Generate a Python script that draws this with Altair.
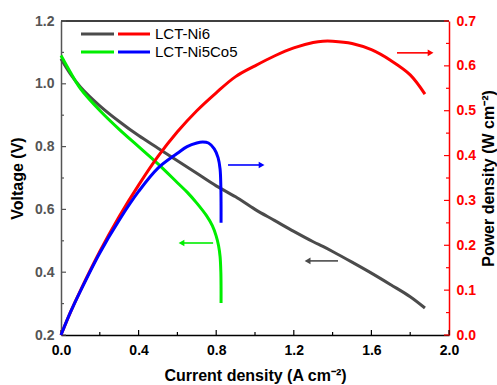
import altair as alt
import pandas as pd

# ---------------- data ----------------
current_ni6 = [0.0, 0.05, 0.1, 0.2, 0.3, 0.4, 0.5, 0.6, 0.7, 0.8, 0.9, 1.0,
               1.1, 1.2, 1.3, 1.35, 1.4, 1.5, 1.6, 1.7, 1.8, 1.876]
voltage_ni6 = [1.08, 1.03, 0.99, 0.93, 0.88, 0.835, 0.795, 0.755, 0.715, 0.675,
               0.64, 0.60, 0.565, 0.53, 0.497, 0.482, 0.466, 0.432, 0.397, 0.36,
               0.322, 0.286]
power_ni6 = [0.0, 0.052, 0.099, 0.186, 0.264, 0.334, 0.398, 0.453, 0.500, 0.540,
             0.576, 0.600, 0.622, 0.640, 0.652, 0.655, 0.655, 0.650, 0.636, 0.612,
             0.580, 0.537]

current_ni5co5_v = [0.0, 0.05, 0.1, 0.2, 0.3, 0.4, 0.5, 0.6, 0.65, 0.7, 0.75,
                    0.78, 0.80, 0.812, 0.82, 0.824, 0.825, 0.825]
voltage_ni5co5 = [1.09, 1.035, 0.985, 0.915, 0.855, 0.80, 0.745, 0.685, 0.655,
                  0.62, 0.58, 0.548, 0.515, 0.485, 0.45, 0.40, 0.35, 0.302]
current_ni5co5_p = [0.0, 0.05, 0.1, 0.2, 0.3, 0.4, 0.5, 0.6, 0.65, 0.7, 0.73,
                    0.76, 0.79, 0.81, 0.82, 0.824, 0.825, 0.825]
power_ni5co5 = [0.0, 0.052, 0.098, 0.183, 0.256, 0.32, 0.372, 0.405, 0.42, 0.428,
                0.43, 0.428, 0.415, 0.395, 0.37, 0.33, 0.29, 0.25]

legend_labels = ["LCT-Ni6", "LCT-Ni5Co5"]

x_major = [0.0, 0.4, 0.8, 1.2, 1.6, 2.0]
x_minor = [0.2, 0.6, 1.0, 1.4, 1.8]
yl_major = [0.2, 0.4, 0.6, 0.8, 1.0, 1.2]
yl_minor = [0.3, 0.5, 0.7, 0.9, 1.1]
yr_major = [0.0, 0.1, 0.2, 0.3, 0.4, 0.5, 0.6, 0.7]
yr_minor = [0.05, 0.15, 0.25, 0.35, 0.45, 0.55, 0.65]

# arrows (tail x, head x, y) in data units
arrows_left = {"gray": (1.428, 1.253, 0.436), "green": (0.784, 0.603, 0.493)}
arrows_right = {"blue": (0.861, 1.052, 0.379), "red": (1.732, 1.923, 0.629)}

# ---------------- styling ----------------
W, H = 388, 314
FONT = "Liberation Sans"
GRAY = "#4b4b4b"
AXGRAY = "#555555"
RED = "#ff0000"
GREEN = "#00ee00"
BLUE = "#0000ff"

XS = alt.Scale(domain=[0, 2], nice=False, zero=False)
YL = alt.Scale(domain=[0.2, 1.2], nice=False, zero=False)
YR = alt.Scale(domain=[0, 0.7], nice=False, zero=False)

common_axis = dict(ticks=False, grid=False, labelFont=FONT, labelFontSize=14,
                   labelFontWeight="bold", titleFont=FONT, titleFontSize=16,
                   titleFontWeight="bold", domainWidth=1.5, labelFlush=False,
                   labelOverlap=False, format=".1f", titleColor="black")

x_axis = alt.Axis(title="Current density (A cm⁻²)", orient="bottom", values=x_major,
                  domainColor="black", labelColor="black", labelPadding=8,
                  titlePadding=10, **common_axis)
yl_axis = alt.Axis(title="Voltage (V)", orient="left", values=yl_major,
                   domainColor=AXGRAY, labelColor=AXGRAY, labelPadding=7,
                   titlePadding=9, **common_axis)
yr_axis = alt.Axis(title="Power density (W cm⁻²)", orient="right", values=yr_major,
                   domainColor=RED, labelColor=RED, labelPadding=7,
                   titlePadding=5, titleAngle=270, titleBaseline="top", **common_axis)

AX_Y = {"L": yl_axis, "R": yr_axis}
SC_Y = {"L": YL, "R": YR}

df6 = pd.DataFrame({"i": range(len(current_ni6)), "j": current_ni6,
                    "v": voltage_ni6, "p": power_ni6})
df55v = pd.DataFrame({"i": range(len(current_ni5co5_v)), "j": current_ni5co5_v,
                      "v": voltage_ni5co5})
df55p = pd.DataFrame({"i": range(len(current_ni5co5_p)), "j": current_ni5co5_p,
                      "p": power_ni5co5})
one = pd.DataFrame({"k": [0]})


def X(field):
    return alt.X(field, scale=XS, axis=x_axis)


def Y(field, side):
    return alt.Y(field, scale=SC_Y[side], axis=AX_Y[side])


def curve(df, field, side, color):
    return alt.Chart(df).mark_line(color=color, strokeWidth=3,
                                   interpolate="catmull-rom").encode(
        x=X("j:Q"), y=Y(f"{field}:Q", side), order=alt.Order("i:Q"))


def xticks(vals, length):
    return alt.Chart(pd.DataFrame({"t": vals})).mark_rule(color="black", strokeWidth=1.2).encode(
        x=X("t:Q"), y=alt.value(H), y2=alt.value(H - length))


def yticks(vals, side, color, x0, length):
    return alt.Chart(pd.DataFrame({"t": vals})).mark_rule(color=color, strokeWidth=1.2).encode(
        y=Y("t:Q", side), x=alt.value(x0), x2=alt.value(x0 + length))


def arrow(spec, side, color):
    xt, xh, yv = spec
    d = 1 if xh > xt else -1
    df = pd.DataFrame({"xt": [xt], "xb": [xh - d * 0.03], "xh": [xh - d * 0.018], "y": [yv]})
    line = alt.Chart(df).mark_rule(color=color, strokeWidth=1.6).encode(
        x=X("xt:Q"), x2="xb:Q", y=Y("y:Q", side))
    head = alt.Chart(df).mark_point(filled=True, color=color, opacity=1, size=45,
                                    shape="triangle-right" if d > 0 else "triangle-left").encode(
        x=X("xh:Q"), y=Y("y:Q", side))
    return line + head


top_border = alt.Chart(one).mark_rule(color="black", strokeWidth=1.5).encode(
    x=alt.value(0), x2=alt.value(W), y=alt.value(0))

legend_layers = []
leg_colors = [(GRAY, RED), (GREEN, BLUE)]
for k, label in enumerate(legend_labels):
    yy = 13 + 18 * k
    c1, c2 = leg_colors[k]
    legend_layers.append(alt.Chart(one).mark_rule(color=c1, strokeWidth=3).encode(
        x=alt.value(20), x2=alt.value(53), y=alt.value(yy)))
    legend_layers.append(alt.Chart(one).mark_rule(color=c2, strokeWidth=3).encode(
        x=alt.value(57), x2=alt.value(89), y=alt.value(yy)))
    legend_layers.append(alt.Chart(pd.DataFrame({"label": [label]})).mark_text(
        align="left", baseline="middle", font=FONT, fontSize=15, color="black").encode(
        x=alt.value(94), y=alt.value(yy), text="label:N"))

left = alt.layer(
    curve(df6, "v", "L", GRAY),
    curve(df55v, "v", "L", GREEN),
    top_border,
    xticks(x_major, 5), xticks(x_minor, 3),
    yticks(yl_major, "L", AXGRAY, 0, 5), yticks(yl_minor, "L", AXGRAY, 0, 3),
    arrow(arrows_left["gray"], "L", GRAY), arrow(arrows_left["green"], "L", GREEN),
    *legend_layers,
)

right = alt.layer(
    curve(df6, "p", "R", RED),
    curve(df55p, "p", "R", BLUE),
    yticks(yr_major, "R", RED, W - 5, 5), yticks(yr_minor, "R", RED, W - 3, 3),
    arrow(arrows_right["blue"], "R", BLUE), arrow(arrows_right["red"], "R", RED),
)

chart = alt.layer(left, right).resolve_scale(y="independent").properties(
    width=W, height=H,
    autosize=alt.AutoSizeParams(type="none"),
    padding={"left": 61, "top": 21, "right": 48, "bottom": 50},
).configure_view(stroke=None)

chart.save("out.html", embed_options={"renderer": "svg", "actions": False})
